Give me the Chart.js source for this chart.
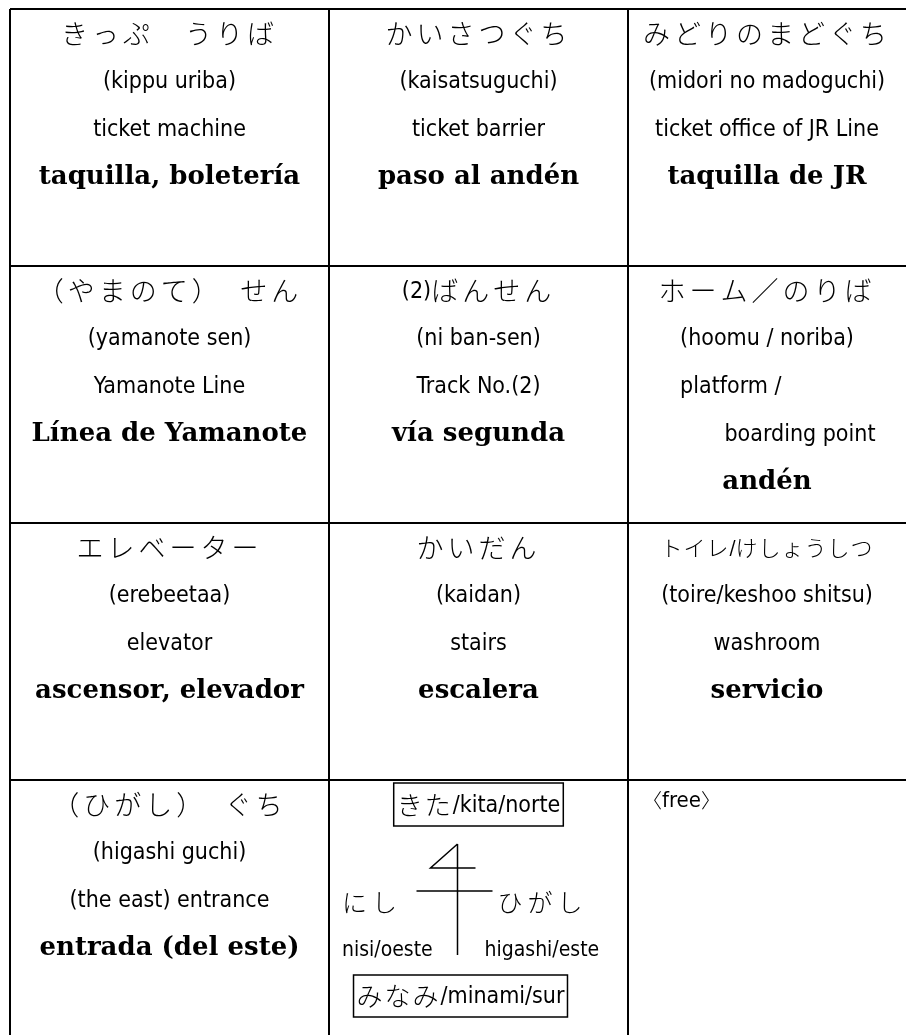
<!DOCTYPE html>
<html>
<head>
<meta charset="utf-8">
<script src="https://cdn.jsdelivr.net/npm/chart.js@4.4.0/dist/chart.umd.min.js"></script>
<style>
  html, body { margin: 0; padding: 0; background: #fff; }
</style>
</head>
<body>
<canvas id="tabla" width="906" height="1035"></canvas>
<script>
// contenido de las celdas, fila por fila (izquierda -> derecha)
const kana = [
  "きっぷ　うりば", "かいさつぐち", "みどりのまどぐち",
  "（やまのて）　せん", "(2)ばんせん", "ホーム／のりば",
  "エレベーター", "かいだん", "トイレ/けしょうしつ",
  "（ひがし）　ぐち", "", ""
];
const romaji = [
  "(kippu uriba)", "(kaisatsuguchi)", "(midori no madoguchi)",
  "(yamanote sen)", "(ni ban-sen)", "(hoomu / noriba)",
  "(erebeetaa)", "(kaidan)", "(toire/keshoo shitsu)",
  "(higashi guchi)", "", ""
];
const english = [
  "ticket machine", "ticket barrier", "ticket office of JR Line",
  "Yamanote Line", "Track No.(2)", ["platform /", "boarding point"],
  "elevator", "stairs", "washroom",
  "(the east) entrance", "", ""
];
const spanish = [
  "taquilla, boletería", "paso al andén", "taquilla de JR",
  "Línea de Yamanote", "vía segunda", "andén",
  "ascensor, elevador", "escalera", "servicio",
  "entrada (del este)", "", ""
];
// celda de la brújula (fila 4, columna 2) y la celda libre
const rumbos = ["きた/kita/norte", "にし", "ひがし", "nisi/oeste", "higashi/este", "みなみ/minami/sur"];
const libre = "〈free〉";

// layout
const colEdges = [0, 319, 618, 896];   // anchos de columna en px
const rowH = 257;
const nRows = 4;

const JP = '"Noto Sans CJK JP"';
const LAT = '"DejaVu Sans Condensed", "DejaVu Sans", sans-serif';
const SERIF = 'bold 26px "DejaVu Serif", serif';
const LAT_SIZE = 23;
const lineOff = [25, 72, 120, 168, 216];

const isJp = ch => /[\u3000-\u30ff\uff00-\uffef\u4e00-\u9fff]/.test(ch);

function runs(text) {
  const out = [];
  for (const ch of text) {
    const jp = isJp(ch);
    if (out.length && out[out.length - 1].jp === jp) out[out.length - 1].t += ch;
    else out.push({ t: ch, jp: jp });
  }
  return out;
}

// dibuja texto mezclado japonés / latino
function drawMixed(ctx, text, x, cy, align, jpSize, latSize, spacing) {
  const parts = runs(text);
  const font = p => p.jp ? '300 ' + jpSize + 'px ' + JP : latSize + 'px ' + LAT;
  let w = 0;
  parts.forEach(p => {
    ctx.font = font(p);
    ctx.letterSpacing = p.jp ? spacing + 'px' : '0px';
    p.w = ctx.measureText(p.t).width;
    w += p.w;
  });
  let sx = align === 'center' ? x - w / 2 : align === 'right' ? x - w : x;
  const left = sx;
  ctx.textAlign = 'left';
  ctx.textBaseline = 'middle';
  parts.forEach(p => {
    ctx.font = font(p);
    ctx.letterSpacing = p.jp ? spacing + 'px' : '0px';
    ctx.fillText(p.t, sx, cy + (p.jp ? 0 : 1));
    sx += p.w;
  });
  ctx.letterSpacing = '0px';
  return { left: left, right: left + w };
}

const tablaPlugin = {
  id: 'tabla',
  afterDraw(chart) {
    const ctx = chart.ctx;
    const xs = chart.scales.x, ys = chart.scales.y;
    ctx.save();
    ctx.fillStyle = '#000';
    ctx.strokeStyle = '#000';
    for (let i = 0; i < kana.length; i++) {
      const c = i % 3, r = Math.floor(i / 3);
      const x0 = xs.getPixelForValue(colEdges[c]);
      const x1 = xs.getPixelForValue(colEdges[c + 1]);
      const cx = (x0 + x1) / 2;
      const top = ys.getPixelForValue(r);

      if (r === 3 && c === 1) { drawBrujula(ctx, x0, x1, top); continue; }
      if (r === 3 && c === 2) { drawMixed(ctx, libre, x0 + 14, top + 20, 'left', 20, 22, 0); continue; }

      // los renglones con barra "/" van en letra más chica
      const chico = kana[i].includes('/');
      const k = drawMixed(ctx, kana[i], cx, top + lineOff[0], 'center', chico ? 22 : 27, chico ? 20 : LAT_SIZE, chico ? 1 : 4);
      const ro = drawMixed(ctx, romaji[i], cx, top + lineOff[1], 'center', 23, LAT_SIZE, 0);
      let n;
      if (Array.isArray(english[i])) {
        drawMixed(ctx, english[i][0], ro.left, top + lineOff[2], 'left', 23, LAT_SIZE, 0);
        drawMixed(ctx, english[i][1], k.right, top + lineOff[3], 'right', 23, LAT_SIZE, 0);
        n = 4;
      } else {
        drawMixed(ctx, english[i], cx, top + lineOff[2], 'center', 23, LAT_SIZE, 0);
        n = 3;
      }
      ctx.font = SERIF;
      ctx.textAlign = 'center';
      ctx.textBaseline = 'middle';
      ctx.fillText(spanish[i], cx, top + lineOff[n]);
    }
    ctx.restore();
  }
};

function drawBrujula(ctx, x0, x1, top) {
  const cx = (x0 + x1) / 2;
  ctx.lineWidth = 1.5;
  // norte
  let b = drawMixed(ctx, rumbos[0], cx, top + 25, 'center', 26, LAT_SIZE, 2);
  ctx.strokeRect(b.left - 3, top + 3, b.right - b.left + 6, 43);
  // flecha y cruz
  const ax = cx - 21;
  ctx.beginPath();
  ctx.moveTo(ax, top + 64); ctx.lineTo(ax, top + 175);
  ctx.moveTo(ax, top + 64); ctx.lineTo(ax - 27, top + 88); ctx.lineTo(ax + 18, top + 88);
  ctx.moveTo(ax - 41, top + 111); ctx.lineTo(ax + 35, top + 111);
  ctx.stroke();
  // oeste / este
  drawMixed(ctx, rumbos[1], x0 + 13, top + 122, 'left', 25, 20, 5);
  drawMixed(ctx, rumbos[2], ax + 40, top + 122, 'left', 25, 20, 5);
  drawMixed(ctx, rumbos[3], x0 + 13, top + 170, 'left', 23, 21, 0);
  drawMixed(ctx, rumbos[4], ax + 27, top + 170, 'left', 23, 21, 0);
  // sur
  b = drawMixed(ctx, rumbos[5], cx - 18, top + 216, 'center', 26, LAT_SIZE, 2);
  ctx.strokeRect(b.left - 3, top + 195, b.right - b.left + 6, 42);
}

new Chart(document.getElementById('tabla').getContext('2d'), {
  type: 'scatter',
  data: { datasets: [] },
  options: {
    responsive: false,
    animation: false,
    events: [],
    layout: { padding: { left: 10, top: 9, right: 0, bottom: 0 } },
    plugins: { legend: { display: false }, tooltip: { enabled: false } },
    scales: {
      x: {
        type: 'linear', min: 0, max: colEdges[3],
        afterBuildTicks: s => { s.ticks = colEdges.slice(0, 3).map(v => ({ value: v })); },
        afterFit: s => { s.height = 0; },
        ticks: { display: false },
        grid: { color: '#000', lineWidth: 2, drawTicks: false },
        border: { display: false }
      },
      y: {
        type: 'linear', min: 0, max: (1035 - 9) / rowH, reverse: true,
        afterBuildTicks: s => { s.ticks = [...Array(nRows).keys()].map(v => ({ value: v })); },
        afterFit: s => { s.width = 0; },
        ticks: { display: false },
        grid: { color: '#000', lineWidth: 2, drawTicks: false },
        border: { display: false }
      }
    }
  },
  plugins: [tablaPlugin]
});
</script>
</body>
</html>
